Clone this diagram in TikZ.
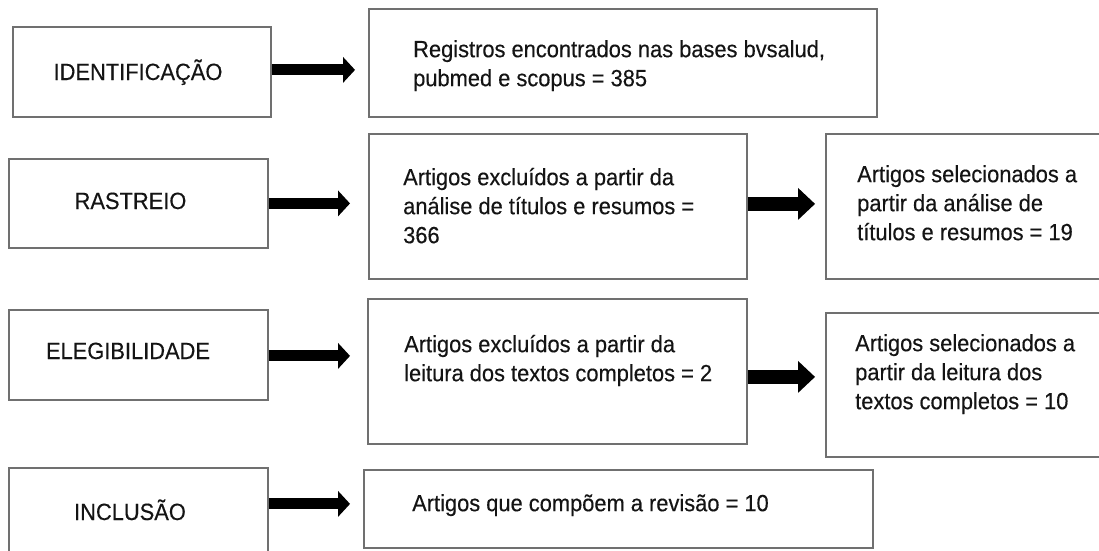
\documentclass[tikz,border=0pt]{standalone}
\usepackage{fontspec}
\setmainfont{Liberation Sans}[FakeStretch=0.93,FakeBold=0.3]
\usetikzlibrary{arrows.meta}
\definecolor{boxgray}{RGB}{112,112,112}
\definecolor{ink}{RGB}{20,20,20}
\newcommand{\fstr}{\rule{0pt}{19pt}}
\begin{document}
\begin{tikzpicture}[x=1pt,y=-1pt,
  box/.style={draw=boxgray, line width=1.8pt, inner sep=0pt, anchor=north west, fill=white},
  lbl/.style={inner sep=0pt, anchor=north west, align=left, text=ink, font=\fontsize{23.5}{29}\selectfont},
  ttl/.style={inner sep=0pt, anchor=base, text=ink, font=\fontsize{23.5}{29}\selectfont},
  thinarrow/.style={line width=11pt, -{Triangle[length=12pt,width=26pt,line width=0pt]}},
  thickarrow/.style={line width=13.5pt, -{Triangle[length=17pt,width=32pt,line width=0pt]}}]
\useasboundingbox (0,0) rectangle (1099,550);
\clip (0,0) rectangle (1099,550);
\fill[white] (0,0) rectangle (1099,550);
% boxes
\node[box, minimum width=258pt, minimum height=90pt] (id) at (12,26) {};
\node[box, minimum width=508pt, minimum height=108pt] (reg) at (368,8) {};
\node[box, minimum width=259pt, minimum height=89pt] (ras) at (8,158) {};
\node[box, minimum width=378pt, minimum height=145pt] (ex1) at (368,133) {};
\node[box, minimum width=300pt, minimum height=145pt] (se1) at (825,133) {};
\node[box, minimum width=259pt, minimum height=90pt] (ele) at (8,309) {};
\node[box, minimum width=379pt, minimum height=145pt] (ex2) at (367,298) {};
\node[box, minimum width=300pt, minimum height=144pt] (se2) at (825,312) {};
\node[box, minimum width=259pt, minimum height=93pt] (inc) at (8,467) {};
\node[box, minimum width=509pt, minimum height=78pt] (rev) at (363,469) {};
% texts
\node[ttl] (t-id) at (138,80) {IDENTIFICAÇÃO};
\node[ttl] (t-ras) at (130.5,209) {RASTREIO};
\node[ttl] (t-ele) at (128,359) {ELEGIBILIDADE};
\node[ttl] (t-inc) at (130,520) {INCLUSÃO};
\node[lbl] (t-reg) at (413,38) {\fstr Registros encontrados nas bases bvsalud,\\pubmed e scopus = 385};
\node[lbl] (t-ex1) at (403,166) {\fstr Artigos excluídos a partir da\\análise de títulos e resumos =\\366};
\node[lbl] (t-se1) at (857,163) {\fstr Artigos selecionados a\\partir da análise de\\títulos e resumos = 19};
\node[lbl] (t-ex2) at (404,333) {\fstr Artigos excluídos a partir da\\leitura dos textos completos = 2};
\node[lbl] (t-se2) at (855,332) {\fstr Artigos selecionados a\\partir da leitura dos\\textos completos = 10};
\node[lbl] (t-rev) at (412,492) {\fstr Artigos que compõem a revisão = 10};
% arrows
\draw[thinarrow, shorten >=13pt] ([yshift=2pt]id.east) -- ([yshift=2pt]id.east -| reg.west);
\draw[thinarrow, shorten >=18pt] (ras.east) -- (ras.east -| ex1.west);
\draw[thickarrow, shorten >=10pt] ([yshift=2.5pt]ex1.east) -- ([yshift=2.5pt]ex1.east -| se1.west);
\draw[thinarrow, shorten >=17pt] ([yshift=-1pt]ele.east) -- ([yshift=-1pt]ele.east -| ex2.west);
\draw[thickarrow, shorten >=10pt] ([yshift=-5.5pt]ex2.east) -- ([yshift=-5.5pt]ex2.east -| se2.west);
\draw[thinarrow, shorten >=13pt] ([yshift=10.5pt]inc.east) -- ([yshift=10.5pt]inc.east -| rev.west);
\end{tikzpicture}
\end{document}
